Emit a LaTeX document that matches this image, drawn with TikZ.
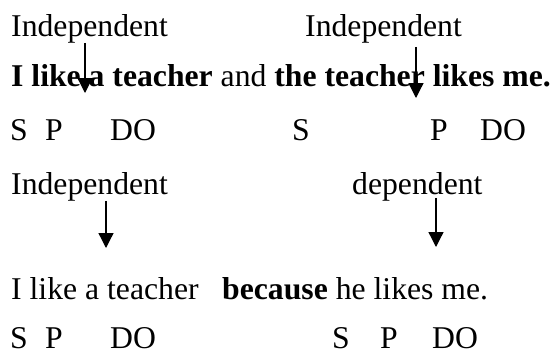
\documentclass[tikz,border=0pt]{standalone}
\usepackage{fontspec}
\setmainfont{Liberation Serif}
\usetikzlibrary{arrows.meta}

\begin{document}
\begin{tikzpicture}[x=1pt, y=-1pt,
    every node/.style={anchor=base west, inner sep=0pt, font=\fontsize{31.7}{38}\selectfont},
    clausearrow/.style={-{Triangle[length=15pt,width=15pt]}, line width=1.3pt}]
        \useasboundingbox (0,0) rectangle (557,354);

        % Compound sentence
        \node (indepA) at (11,36) {Independent};
        \node (indepB) at (305,36) {Independent};
        \node (sentA) at (11,86) {\textbf{I like a teacher} and \textbf{the teacher likes me.}};
        \foreach \x/\role in {10/S, 45/P, 110/DO, 292/S, 430/P, 480/DO} {
          \node (roleA\x) at (\x,140) {\role};
        }

        % Complex sentence
        \node (indepC) at (11,194) {Independent};
        \node (depD) at (352,194) {dependent};
        \node (sentC) at (11,299) {I like a teacher};
        \node (sentD) at (222,299) {\textbf{because} he likes me.};
        \foreach \x/\role in {10/S, 45/P, 110/DO, 332/S, 380/P, 432/DO} {
          \node (roleC\x) at (\x,348) {\role};
        }

        % Arrows
        \coordinate (tipA) at (85,93);
        \coordinate (tipB) at (416,98);
        \coordinate (tipC) at (106,248);
        \coordinate (tipD) at (436,247);
        \draw[clausearrow] (indepA.south -| tipA) -- (tipA);
        \draw[clausearrow] ([yshift=-4pt]indepB.south -| tipB) -- (tipB);
        \draw[clausearrow] (indepC.south -| tipC) -- (tipC);
        \draw[clausearrow] ([yshift=3pt]depD.south -| tipD) -- (tipD);
      \end{tikzpicture}
\end{document}
